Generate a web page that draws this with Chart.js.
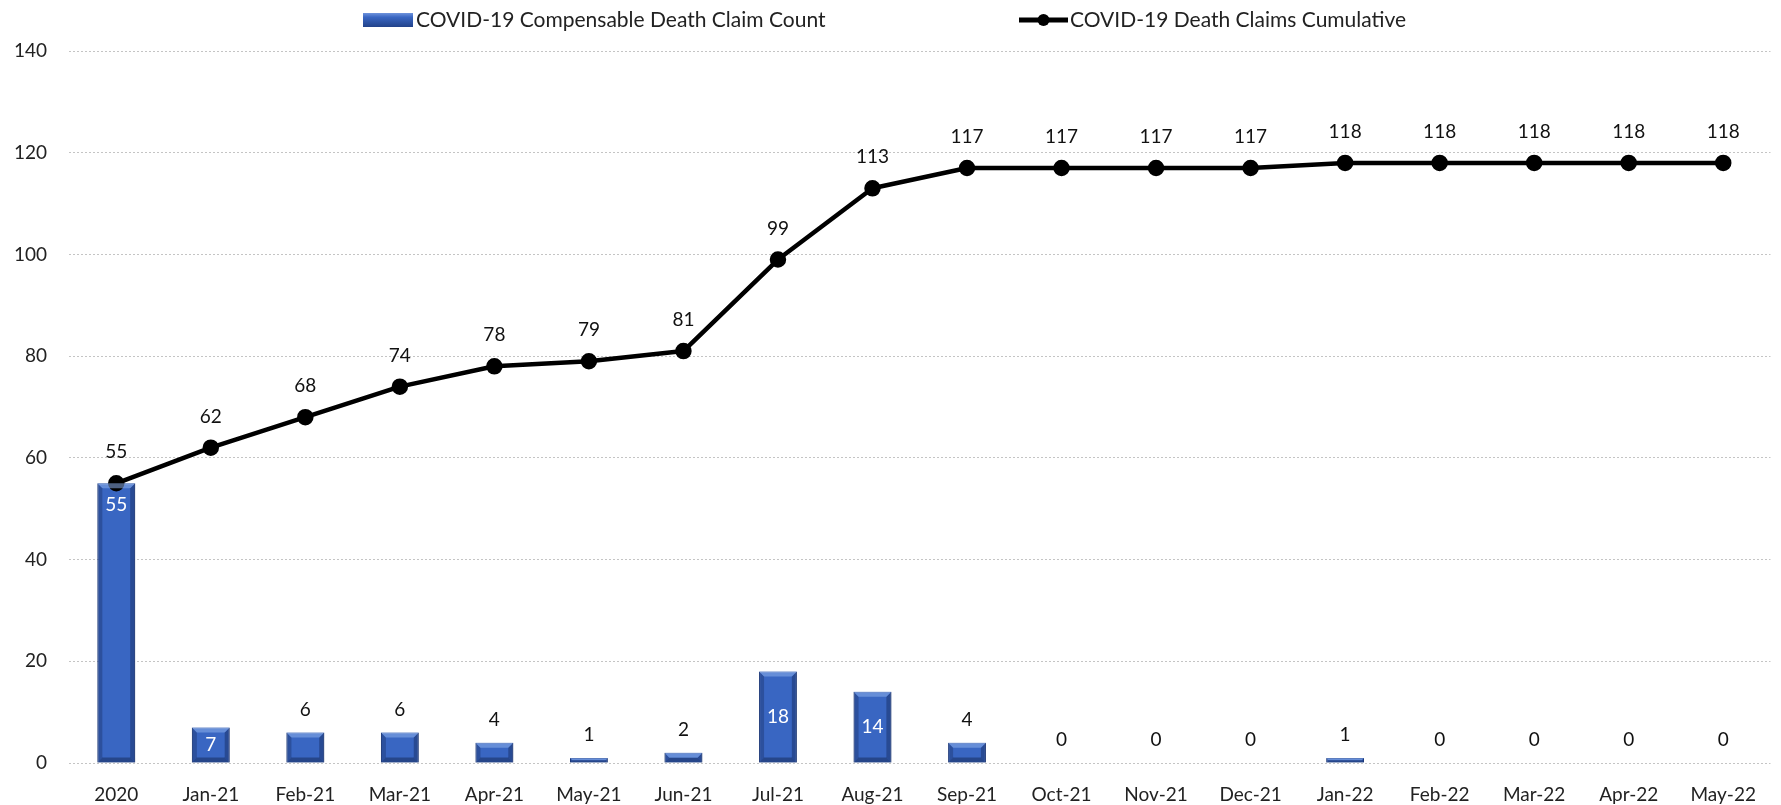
<!DOCTYPE html>
<html>
<head>
<meta charset="utf-8">
<script src="https://cdn.jsdelivr.net/npm/chart.js@4"></script>
<style>
  html, body { margin: 0; padding: 0; background: #fff; }
  #wrap { width: 1781px; height: 805px; }
</style>
</head>
<body>
<div id="wrap"><canvas id="chart" width="1781" height="805"></canvas></div>
<script>
// --- data ---
const months = ['2020', 'Jan-21', 'Feb-21', 'Mar-21', 'Apr-21', 'May-21', 'Jun-21', 'Jul-21', 'Aug-21',
  'Sep-21', 'Oct-21', 'Nov-21', 'Dec-21', 'Jan-22', 'Feb-22', 'Mar-22', 'Apr-22', 'May-22'];
const monthlyClaims = [55, 7, 6, 6, 4, 1, 2, 18, 14, 4, 0, 0, 0, 1, 0, 0, 0, 0];
const cumulativeClaims = [55, 62, 68, 74, 78, 79, 81, 99, 113, 117, 117, 117, 117, 118, 118, 118, 118, 118];
const yTicks = [0, 20, 40, 60, 80, 100, 120, 140];

const FONT = 'Lato, "Open Sans", sans-serif';
const BLUE = '#3966c2';
const BLUE_DARK = '#22428a';

// where each bar label sits: 'end' = inside top, 'center' = middle of bar, 'out' = above bar
function barLabelPos(v) {
  if (v > 40) return 'end';
  if (v >= 7) return 'center';
  return 'out';
}

// bevelled look for the bars + data labels + legend
const decorate = {
  id: 'decorate',
  afterDatasetsDraw(chart) {
    const ctx = chart.ctx;
    const barMeta = chart.getDatasetMeta(0);
    const lineMeta = chart.getDatasetMeta(1);

    barMeta.data.forEach((bar) => {
      const h = bar.base - bar.y;
      if (h < 1) return;
      const w = bar.width;
      const l = bar.x - w / 2, r = bar.x + w / 2, t = bar.y, b = bar.base;
      const e = Math.min(5, h / 2);
      ctx.save();
      ctx.fillStyle = 'rgba(20,40,90,0.35)';
      ctx.beginPath();
      ctx.moveTo(l, t); ctx.lineTo(l + e, t + e); ctx.lineTo(l + e, b - e); ctx.lineTo(l, b); ctx.closePath(); ctx.fill();
      ctx.fillStyle = 'rgba(20,40,90,0.45)';
      ctx.beginPath();
      ctx.moveTo(r, t); ctx.lineTo(r - e, t + e); ctx.lineTo(r - e, b - e); ctx.lineTo(r, b); ctx.closePath(); ctx.fill();
      ctx.fillStyle = 'rgba(140,175,235,0.55)';
      ctx.beginPath();
      ctx.moveTo(l, t); ctx.lineTo(r, t); ctx.lineTo(r - e, t + e); ctx.lineTo(l + e, t + e); ctx.closePath(); ctx.fill();
      ctx.fillStyle = 'rgba(15,30,70,0.45)';
      ctx.beginPath();
      ctx.moveTo(l, b); ctx.lineTo(r, b); ctx.lineTo(r - e, b - e); ctx.lineTo(l + e, b - e); ctx.closePath(); ctx.fill();
      ctx.restore();
    });

    ctx.save();
    ctx.font = '19px ' + FONT;
    ctx.textAlign = 'center';
    ctx.textBaseline = 'middle';

    barMeta.data.forEach((bar, i) => {
      const v = monthlyClaims[i];
      const pos = barLabelPos(v);
      let y;
      if (pos === 'end') { ctx.fillStyle = '#ffffff'; y = bar.y + 22; }
      else if (pos === 'center') { ctx.fillStyle = '#ffffff'; y = (bar.y + bar.base) / 2; }
      else { ctx.fillStyle = '#111111'; y = bar.y - 23; }
      ctx.fillText(String(v), bar.x, y);
    });

    ctx.fillStyle = '#111111';
    lineMeta.data.forEach((pt, i) => {
      ctx.fillText(String(cumulativeClaims[i]), pt.x, pt.y - 31);
    });
    ctx.restore();
  },
  afterDraw(chart) {
    const ctx = chart.ctx;
    const ds = chart.data.datasets;
    ctx.save();
    ctx.font = '21px ' + FONT;
    ctx.textBaseline = 'middle';
    ctx.textAlign = 'left';
    const cy = 20;
    // bar swatch
    const g = ctx.createLinearGradient(0, cy - 7, 0, cy + 7);
    g.addColorStop(0, '#6f93dc');
    g.addColorStop(0.3, BLUE);
    g.addColorStop(1, BLUE_DARK);
    ctx.fillStyle = g;
    ctx.fillRect(363, cy - 7, 50, 14);
    ctx.fillStyle = '#222';
    ctx.fillText(ds[0].label, 416, cy);
    // line swatch
    ctx.strokeStyle = '#000';
    ctx.lineWidth = 5;
    ctx.beginPath(); ctx.moveTo(1019, cy); ctx.lineTo(1068, cy); ctx.stroke();
    ctx.fillStyle = '#000';
    ctx.beginPath(); ctx.arc(1043.5, cy, 6, 0, Math.PI * 2); ctx.fill();
    ctx.fillStyle = '#222';
    ctx.fillText(ds[1].label, 1070, cy);
    ctx.restore();
  }
};

new Chart(document.getElementById('chart'), {
  data: {
    labels: months,
    datasets: [
      {
        type: 'bar',
        label: 'COVID-19 Compensable Death Claim Count',
        data: monthlyClaims,
        backgroundColor: BLUE,
        borderColor: BLUE_DARK,
        borderWidth: 1,
        categoryPercentage: 1,
        barPercentage: 0.4,
        order: 2
      },
      {
        type: 'line',
        label: 'COVID-19 Death Claims Cumulative',
        data: cumulativeClaims,
        borderColor: '#000',
        backgroundColor: '#000',
        borderWidth: 4.5,
        borderJoinStyle: 'round',
        borderCapStyle: 'round',
        pointRadius: 6,
        pointHoverRadius: 6,
        tension: 0,
        order: 1
      }
    ]
  },
  options: {
    responsive: false,
    animation: false,
    layout: { padding: { top: 51, right: 4, left: 0, bottom: 0 } },
    plugins: {
      legend: { display: false },
      tooltip: { enabled: false }
    },
    scales: {
      x: {
        grid: { display: false },
        border: { display: false },
        ticks: { color: '#222', font: { family: FONT, size: 19 }, padding: 12, maxRotation: 0, autoSkip: false },
        afterFit: (s) => { s.height = 42; }
      },
      y: {
        min: 0,
        max: 140,
        afterBuildTicks: (s) => { s.ticks = yTicks.map(v => ({ value: v })); },
        grid: { color: '#c4c4c4', lineWidth: 1, drawTicks: false },
        border: { display: false, dash: [2, 2] },
        ticks: { color: '#222', font: { family: FONT, size: 19 }, padding: 22 },
        afterFit: (s) => { s.width = 69; }
      }
    }
  },
  plugins: [decorate]
});
</script>
</body>
</html>
